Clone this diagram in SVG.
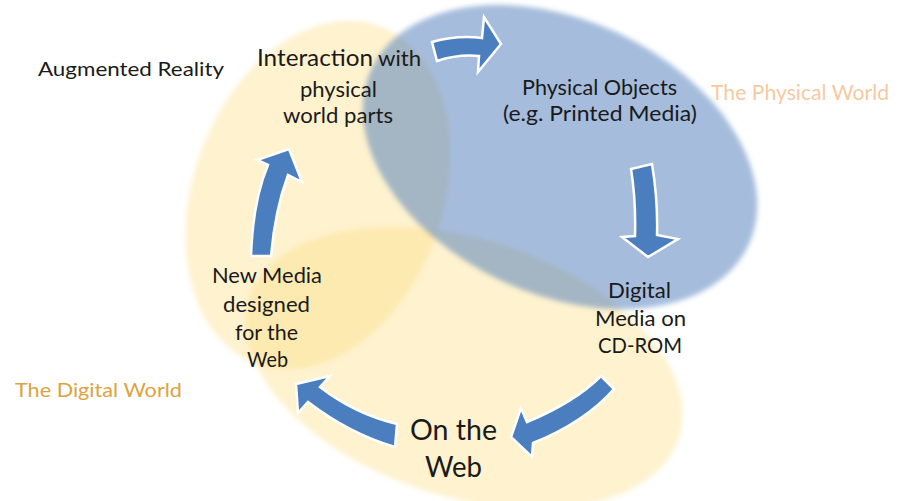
<svg xmlns="http://www.w3.org/2000/svg" width="908" height="501" viewBox="0 0 908 501">
  <defs>
    <filter id="soft" x="-10%" y="-10%" width="120%" height="120%">
      <feGaussianBlur stdDeviation="2.5"/>
    </filter>
    <style>
      .yellow { fill: #fcde82; fill-opacity: 0.38; filter: url(#soft); }
      .blue { fill: #4b79b9; fill-opacity: 0.5; filter: url(#soft); }
      .arrow { fill: #4a7ebf; stroke: #ffffff; stroke-width: 2.5; stroke-linejoin: miter; }
      .lbl { font-family: Lato, "Open Sans", "Liberation Sans", sans-serif; fill: #1a1a1a; }
      .world { font-family: Lato, "Open Sans", "Liberation Sans", sans-serif; }
    </style>
  </defs>

  <rect width="908" height="501" fill="#ffffff"/>

  <!-- overlapping worlds -->
  <g id="digital-world-upper">
    <ellipse class="yellow" cx="318" cy="195" rx="125" ry="180" transform="rotate(20 318 195)"/>
  </g>
  <g id="digital-world-lower">
    <ellipse class="yellow" cx="464" cy="368" rx="226" ry="129" transform="rotate(18 464 368)"/>
  </g>
  <g id="physical-world">
    <ellipse class="blue" cx="560" cy="157" rx="208" ry="137" transform="rotate(25 560 157)"/>
  </g>

  <!-- cycle arrows -->
  <g id="connectors">
    <path class="arrow" d="M432,42 Q457,35 482,38 L484,17 L501,44 L478,72 L479,56 Q458,54 437,61 Z"/>
    <path class="arrow" d="M631,169 L652,164 Q658,200 657,235 L678,239 L648,257 L622,237 L635,236 Q636,200 631,169 Z"/>
    <path class="arrow" d="M601,376 L614,389 Q585,422 533,443 L532,457 L511,437 L521,408 L527,422 Q575,402 601,376 Z"/>
    <path class="arrow" d="M397,424 Q355,414 320,387 L330,376 L296,384 L298,413 L308,402 Q350,434 395,447 Z"/>
    <path class="arrow" d="M251,256 Q253,200 268,165 L257,160 L289,149 L302,182 L288,175 Q275,210 271,256 Z"/>
  </g>

  <!-- labels -->
  <g id="augmented-reality">
    <text class="lbl" x="38" y="76" font-size="20" textLength="186" lengthAdjust="spacingAndGlyphs">Augmented Reality</text>
  </g>
  <g id="interaction">
    <text class="lbl" x="257" y="66" font-size="23" textLength="116" lengthAdjust="spacingAndGlyphs">Interaction</text>
    <text class="lbl" x="378" y="66" font-size="21" textLength="43" lengthAdjust="spacingAndGlyphs">with</text>
    <text class="lbl" x="300" y="97" font-size="21" textLength="77" lengthAdjust="spacingAndGlyphs">physical</text>
    <text class="lbl" x="283" y="123" font-size="21" textLength="110" lengthAdjust="spacingAndGlyphs">world parts</text>
  </g>
  <g id="physical-objects">
    <text class="lbl" x="522" y="95" font-size="21" textLength="155" lengthAdjust="spacingAndGlyphs">Physical Objects</text>
    <text class="lbl" x="503" y="121" font-size="21" textLength="194" lengthAdjust="spacingAndGlyphs">(e.g. Printed Media)</text>
  </g>
  <g id="physical-world-label">
    <text class="world" x="711" y="100" font-size="21" fill="#f7c9a2" textLength="178" lengthAdjust="spacingAndGlyphs">The Physical World</text>
  </g>
  <g id="cd-rom">
    <text class="lbl" x="608" y="298" font-size="21" textLength="63" lengthAdjust="spacingAndGlyphs">Digital</text>
    <text class="lbl" x="595" y="326" font-size="21" textLength="91" lengthAdjust="spacingAndGlyphs">Media on</text>
    <text class="lbl" x="598" y="353" font-size="21" textLength="84" lengthAdjust="spacingAndGlyphs">CD-ROM</text>
  </g>
  <g id="on-the-web">
    <text class="lbl" x="410" y="440" font-size="28" textLength="87" lengthAdjust="spacingAndGlyphs">On the</text>
    <text class="lbl" x="425" y="477" font-size="28" textLength="57" lengthAdjust="spacingAndGlyphs">Web</text>
  </g>
  <g id="new-media">
    <text class="lbl" x="212" y="283" font-size="21" textLength="110" lengthAdjust="spacingAndGlyphs">New Media</text>
    <text class="lbl" x="223" y="312" font-size="21" textLength="87" lengthAdjust="spacingAndGlyphs">designed</text>
    <text class="lbl" x="235" y="340" font-size="21" textLength="63" lengthAdjust="spacingAndGlyphs">for the</text>
    <text class="lbl" x="247" y="367" font-size="21" textLength="41" lengthAdjust="spacingAndGlyphs">Web</text>
  </g>
  <g id="digital-world-label">
    <text class="world" x="15" y="397" font-size="20" fill="#dea23f" textLength="167" lengthAdjust="spacingAndGlyphs">The Digital World</text>
  </g>
</svg>
